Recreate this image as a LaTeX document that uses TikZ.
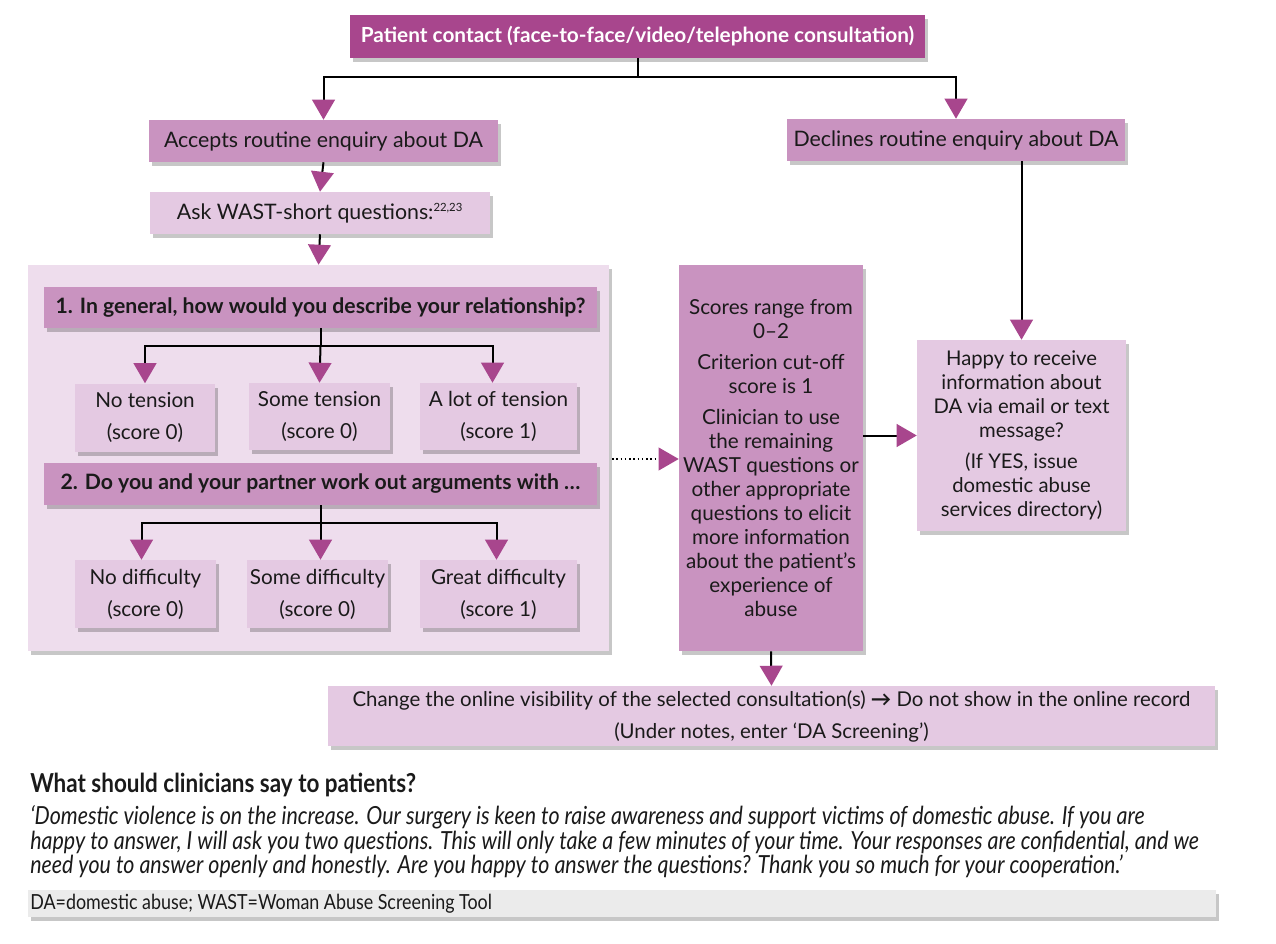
\documentclass[tikz,border=0pt]{standalone}
\usepackage{fontspec}
\setmainfont{Lato}
\newfontfamily\condfont[FakeStretch=0.86]{Lato}
\usetikzlibrary{arrows.meta,shadows,calc}
\definecolor{dark}{HTML}{A8468D}
\definecolor{mid}{HTML}{C993C0}
\definecolor{light}{HTML}{E4C9E2}
\definecolor{pane}{HTML}{EEDDED}
\definecolor{ink}{HTML}{1A1A1A}
\definecolor{foot}{HTML}{EBEBEB}
\tikzset{
  wh/.style 2 args={minimum width=#1*0.75pt, minimum height=#2*0.75pt},
  shad/.style={drop shadow={shadow xshift=2.5pt,shadow yshift=-3pt,opacity=0.22,fill=black}},
  box/.style={shad, inner sep=1pt, align=center, text=ink, font=\fontsize{15.5}{18}\selectfont},
  darkbox/.style={box, fill=dark, text=white, font=\fontsize{15.6}{18}\selectfont\bfseries},
  midbox/.style={box, fill=mid},
  lightbox/.style={box, fill=light},
  optbox/.style={lightbox, text depth=2pt},
  qbox/.style={box, fill=mid, font=\fontsize{15.9}{18}\selectfont\bfseries},
  arr/.style={line width=1.5pt, draw=black, -{Triangle[width=17pt,length=15pt,color=dark]}},
  ln/.style={line width=1.5pt, draw=black},
  para/.style={anchor=base west, inner sep=0pt, text=ink, font=\condfont\fontsize{18.7}{20}\selectfont\itshape},
}
\begin{document}
\begin{tikzpicture}[x=0.75pt,y=-0.75pt]
\useasboundingbox (0,0) rectangle (1276,944);
% top
\node[darkbox, wh={575}{43}] (top) at (637.5,36.5) {Patient contact (face-to-face/video/telephone consultation)};
\node[midbox, wh={349}{42}, font=\fontsize{16}{18}\selectfont] (acc) at (323.5,141) {Accepts routine enquiry about DA};
\node[midbox, wh={338}{42}, font=\fontsize{16}{18}\selectfont] (dec) at (956,140) {Declines routine enquiry about DA};
\node[lightbox, wh={340}{42}, font=\fontsize{16}{18}\selectfont] (ask) at (320,213) {Ask WAST-short questions:\textsuperscript{\fontsize{8.5}{8.5}\selectfont 22,23}};
% panel
\node[shad, fill=pane, wh={581}{386}] (panel) at (318.5,458) {};
\node[qbox, wh={553}{41}] (q1) at (320.5,307.5) {1. In general, how would you describe your relationship?};
\node[optbox, wh={140}{68}] (o11) at (145,417.5) {No tension\\[6pt](score 0)};
\node[optbox, wh={141}{67}] (o12) at (319.5,416.5) {Some tension\\[6pt](score 0)};
\node[optbox, wh={157}{67}] (o13) at (498.5,416.5) {A lot of tension\\[6pt](score 1)};
\node[qbox, wh={553}{42}] (q2) at (320.5,484) {2. Do you and your partner work out arguments with \dots};
\node[optbox, wh={141}{68}] (o21) at (145.5,594) {No difficulty\\[6pt](score 0)};
\node[optbox, wh={141}{68}] (o22) at (317.5,594) {Some difficulty\\[6pt](score 0)};
\node[optbox, wh={157}{68}] (o23) at (498.5,594) {Great difficulty\\[6pt](score 1)};
% scores
\node[midbox, wh={184}{386}] (sc) at (771,458) {Scores range from\\0--2\\[5pt]Criterion cut-off\\score is 1\\[5pt]Clinician to use\\the remaining\\WAST questions or\\other appropriate\\questions to elicit\\more information\\about the patient’s\\experience of\\abuse};
\node[lightbox, wh={209}{191}, font=\fontsize{15.2}{18}\selectfont] (hap) at (1021.5,435.5) {Happy to receive\\information about\\DA via email or text\\message?\\[5pt](If YES, issue\\domestic abuse\\services directory)};
\node[lightbox, wh={887}{60}, font=\fontsize{15.3}{18}\selectfont] (chg) at (771.5,716) {Change the online visibility of the selected consultation(s) \textbf{→} Do not show in the online record\\[6pt](Under notes, enter ‘DA Screening’)};
% connectors
\draw[ln] (top.south) -- ++(0,19) coordinate (j0);
\draw[arr] (j0) -| (acc.north);
\draw[arr] (j0) -| (dec.north);
\draw[arr] (acc.south) -- (ask.north);
\draw[arr] (ask.south) -- (panel.north);
\draw[ln] (q1.south) -- ++(0,18) coordinate (j1);
\draw[arr] (j1) -| (o11.north);
\draw[arr] (j1) -- (o12.north);
\draw[arr] (j1) -| ($(o13.north)+(-6,0)$);
\draw[ln] (q2.south) -- ++(0,18) coordinate (j2);
\draw[arr] (j2) -| ($(o21.north)+(-4,0)$);
\draw[arr] (j2) -| ($(o22.north)+(3,0)$);
\draw[arr] (j2) -| ($(o23.north)+(-2,0)$);
\coordinate (dots) at (612,459);
\draw[line width=1.2pt, dotted, -{Triangle[width=17pt,length=15pt,color=dark]}] (dots) -- (sc.west |- dots);
\draw[arr] (sc.east |- hap) -- (hap.west);
\draw[arr] (dec.south -| hap.north) -- (hap.north);
\draw[arr] (sc.south) -- (chg.north);
% bottom text
\node[anchor=base west, inner sep=0pt, text=ink, font=\condfont\fontsize{19.6}{20}\selectfont\bfseries] (hd) at (30,792) {What should clinicians say to patients?};
\node[para] (l1) at (30,824) {‘Domestic violence is on the increase. Our surgery is keen to raise awareness and support victims of domestic abuse. If you are};
\node[para] (l2) at (30,849) {happy to answer, I will ask you two questions. This will only take a few minutes of your time. Your responses are confidential, and we};
\node[para] (l3) at (30,873) {need you to answer openly and honestly. Are you happy to answer the questions? Thank you so much for your cooperation.’};
\node[shad, fill=foot, wh={1188}{27}] (ft) at (622,903.5) {};
\node[anchor=west, inner sep=0pt, text=ink, font=\condfont\fontsize{15.6}{16}\selectfont] (ftx) at (30,904) {DA=domestic abuse; WAST=Woman Abuse Screening Tool};
\end{tikzpicture}
\end{document}
